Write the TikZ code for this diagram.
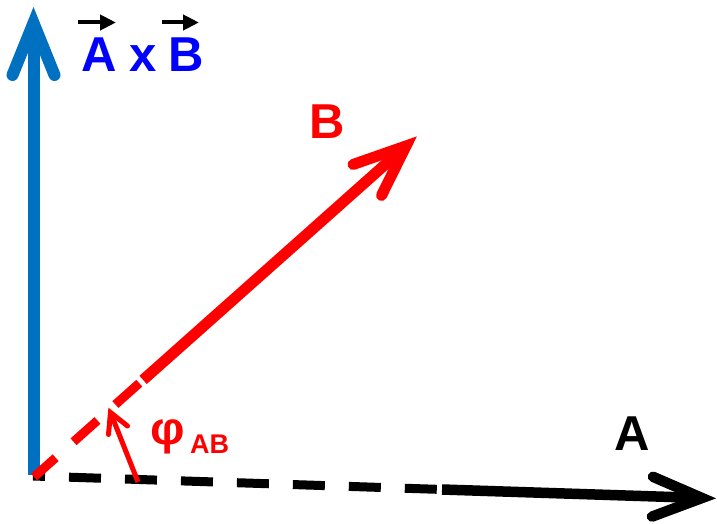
\documentclass[tikz,border=0pt]{standalone}
\usepackage{fontspec}
\setmainfont{Liberation Sans}
\usetikzlibrary{arrows.meta,calc}
\definecolor{axblue}{RGB}{0,112,192}
\definecolor{txtblue}{RGB}{0,0,255}
\definecolor{vred}{RGB}{255,0,0}
\begin{document}
\begin{tikzpicture}[x=1pt,y=-1pt,
  shaft/.style={line width=#1, line cap=butt},
  headv/.style={line width=#1, line cap=round, line join=miter},
  dashA/.style={line width=9pt, line cap=butt, dash pattern=on 32pt off 24pt, dash phase=20pt},
  dashB/.style={line width=9pt, line cap=butt, dash pattern=on 32pt off 24pt, dash phase=3pt},
  lbl/.style={inner sep=0pt, anchor=base west, font=\fontsize{49}{49}\selectfont\bfseries},
  vecarrow/.style={line width=4pt, -{Triangle[length=16pt,width=15pt]}}
  ]
\useasboundingbox (0,0) rectangle (717,524);
% coordinates
\coordinate (Ob) at (33.5,475);
\coordinate (Vb) at (33.5,23);
\coordinate (Lb1) at (12.5,75);
\coordinate (Lb2) at (54.5,75);
\coordinate (Oa) at (33,476);
\coordinate (Da) at (437,489.3);
\coordinate (Sa) at (442,489.5);
\coordinate (Va) at (702,498);
\coordinate (La1) at (653,476.8);
\coordinate (La2) at (652,516.6);
\coordinate (Or) at (34,477);
\coordinate (Dr) at (139.3,383.2);
\coordinate (Sr) at (143.1,379.9);
\coordinate (Vr) at (406,146);
\coordinate (Lr1) at (353,164.5);
\coordinate (Lr2) at (381.5,195.5);
\coordinate (Op) at (138,482);
\coordinate (Vp) at (110.5,412.5);
\coordinate (Lp1) at (108.5,434.5);
\coordinate (Lp2) at (127.5,426);
% blue axis
\draw[axblue, shaft=12pt] (Ob) -- (Vb);
\draw[axblue, headv=12pt] (Lb1) -- (Vb) -- (Lb2);
% black vector A
\draw[black, dashA] (Oa) -- (Da);
\draw[black, shaft=10.5pt] (Sa) -- (Va);
\draw[black, headv=10.5pt] (La1) -- (Va) -- (La2);
% red vector B
\draw[vred, dashB] (Or) -- (Dr);
\draw[vred, shaft=11pt] (Sr) -- (Vr);
\draw[vred, headv=11pt] (Lr1) -- (Vr) -- (Lr2);
% angle arrow
\draw[vred, shaft=5pt] (Op) -- (Vp);
\draw[vred, headv=5pt] (Lp1) -- (Vp) -- (Lp2);
% labels
\node[lbl, text=txtblue] (tA) at (81,72) {A};
\node[lbl, text=txtblue] (tx) at (129,72) {x};
\node[lbl, text=txtblue] (tB) at (168,72) {B};
\draw[vecarrow] ($(tA.base west)+(-3,-49.5)$) -- ++(38,0);
\draw[vecarrow] ($(tB.base west)+(-6,-49.5)$) -- ++(37,0);
\node[lbl, text=vred] (lB) at (309,139) {B};
\node[lbl, text=black] (lA) at (614,450) {A};
\node[inner sep=0pt, anchor=base west, text=vred, font=\fontsize{46}{46}\selectfont\bfseries] (phi) at (150,444) {\scalebox{1.05}[1]{φ}};
\node[inner sep=0pt, anchor=base west, text=vred, font=\fontsize{27}{27}\selectfont\bfseries] (sub) at (190,453) {AB};
\end{tikzpicture}
\end{document}
